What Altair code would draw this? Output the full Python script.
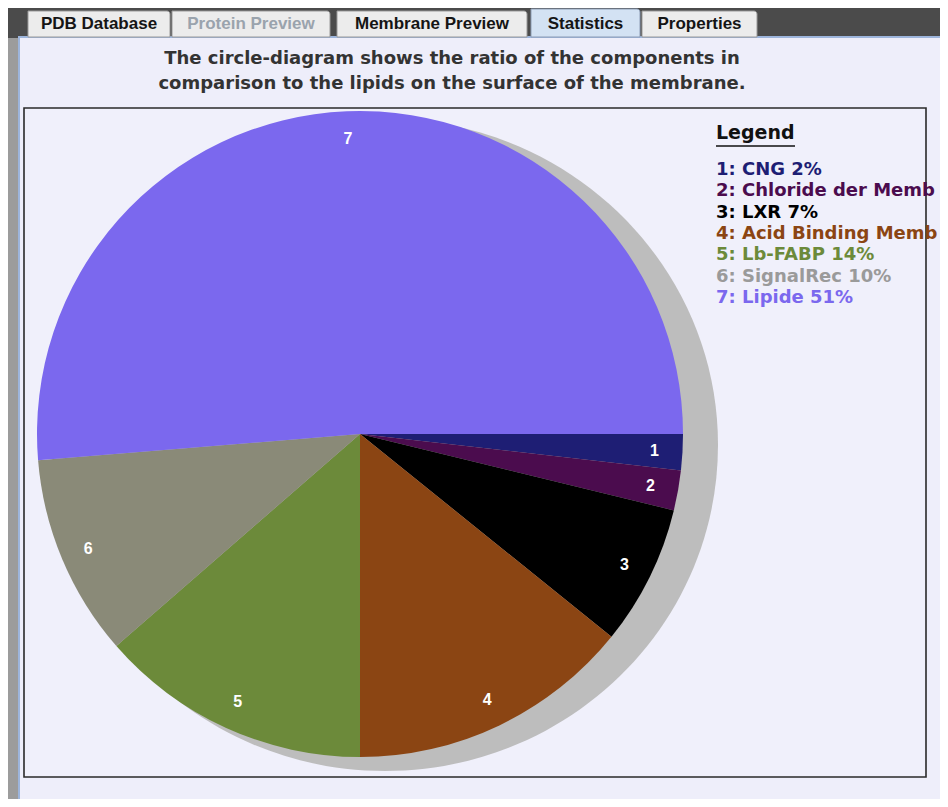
import math
import altair as alt
import pandas as pd

# ---- data ----
labels = ["1", "2", "3", "4", "5", "6", "7"]
names = ["CNG", "Chloride der Membran", "LXR", "Acid Binding Membran",
         "Lb-FABP", "SignalRec", "Lipide"]
shares = [1.8, 2.0, 7.0, 14.2, 13.6, 10.1, 51.3]
legend_text = ["1: CNG 2%", "2: Chloride der Memb", "3: LXR 7%",
               "4: Acid Binding Memb", "5: Lb-FABP 14%", "6: SignalRec 10%",
               "7: Lipide 51%"]
slice_colors = ["#1e1e74", "#4b0c4e", "#000000", "#8b4513",
                "#6c8a3a", "#8a8a78", "#7b68ee"]
legend_colors = ["#1e1e74", "#4b0c4e", "#000000", "#8b4513",
                 "#6c8a3a", "#9a9a9a", "#7b68ee"]
title_lines = ["The circle-diagram shows the ratio of the components in",
               "comparison to the lipids on the surface of the membrane."]
tab_names = ["PDB Database", "Protein Preview", "Membrane Preview",
             "Statistics", "Properties"]

df = pd.DataFrame({
    "idx": list(range(len(labels))),
    "label": labels,
    "name": names,
    "share": shares,
    "legend": legend_text,
    "scolor": slice_colors,
    "lcolor": legend_colors,
})
one = pd.DataFrame({"k": [0]})

FONT = "Liberation Sans"
WIDE = "DejaVu Sans"
W, H = 932, 791
CX, CY, R = 352, 426, 323
theta_scale = alt.Scale(domain=[0, sum(shares)],
                        range=[math.pi / 2, math.pi / 2 + 2 * math.pi])

layers = []

# outer window decorations
layers.append(alt.Chart(one).mark_rect(color="#9c9c9c").encode(
    x=alt.value(0), x2=alt.value(10), y=alt.value(30), y2=alt.value(H)))
# panel
layers.append(alt.Chart(one).mark_rect(fill="#eeeefa", stroke="#9db5dc", strokeWidth=2).encode(
    x=alt.value(11), x2=alt.value(936), y=alt.value(29), y2=alt.value(797)))

# tabs
tab_pos = [(20, 162), (164, 322), (329, 519), (523, 632), (634, 749)]
for i, (name, (a, b)) in enumerate(zip(tab_names, tab_pos)):
    sel = name == "Statistics"
    layers.append(alt.Chart(one).mark_rect(
        fill="#d3e2f3" if sel else "#ececec",
        stroke="#8d9db5" if sel else "#9a9a9a", strokeWidth=1,
        cornerRadiusTopRight=3).encode(
        x=alt.value(a), x2=alt.value(b), y=alt.value(1 if sel else 3), y2=alt.value(29)))
    layers.append(alt.Chart(one).mark_text(
        font=FONT, fontSize=17, fontWeight="bold",
        color="#9aa3ad" if name == "Protein Preview" else "#151515",
        align="center", baseline="middle").encode(
        x=alt.value((a + b) / 2), y=alt.value(16), text=alt.value(name)))

# title
for j, line in enumerate(title_lines):
    layers.append(alt.Chart(one).mark_text(
        font=WIDE, fontSize=18, fontWeight="bold", color="#333333",
        align="center", baseline="middle").encode(
        x=alt.value(444), y=alt.value(51 + 25 * j), text=alt.value(line)))

# frame
layers.append(alt.Chart(one).mark_rect(fill="#f0f0fb", stroke="#2a2a2a", strokeWidth=1.6).encode(
    x=alt.value(16), x2=alt.value(918), y=alt.value(100), y2=alt.value(769)))

# shadow (slightly elliptical, offset to the lower right)
ellipse = "M -1 0 A 1 0.979 0 1 0 1 0 A 1 0.979 0 1 0 -1 0 Z"
layers.append(alt.Chart(one).mark_point(
    shape=ellipse, size=666 ** 2, filled=True, opacity=1, strokeWidth=0,
    color="#bdbdbd").encode(
    x=alt.value(CX + 25), y=alt.value(CY + 11)))

# pie
layers.append(alt.Chart(df).mark_arc(outerRadius=R).encode(
    theta=alt.Theta("share:Q", stack=True, scale=theta_scale),
    order=alt.Order("idx:Q", sort="ascending"),
    color=alt.Color("scolor:N", scale=None, legend=None),
    x=alt.value(CX), y=alt.value(CY)))

# slice labels
layers.append(alt.Chart(df).mark_text(
    radius=295, font=FONT, fontSize=16, fontWeight="bold", color="white",
    align="center", baseline="middle").encode(
    theta=alt.Theta("share:Q", stack=True, scale=theta_scale),
    order=alt.Order("idx:Q", sort="ascending"),
    text="label:N",
    x=alt.value(CX), y=alt.value(CY)))

# legend
layers.append(alt.Chart(one).mark_text(
    font=WIDE, fontSize=19, fontWeight="bold", color="#111111",
    align="left", baseline="middle").encode(
    x=alt.value(708), y=alt.value(125), text=alt.value("Legend")))
layers.append(alt.Chart(one).mark_rule(color="#111111", strokeWidth=1.5).encode(
    x=alt.value(708), x2=alt.value(787), y=alt.value(138)))
layers.append(alt.Chart(df).mark_text(
    font=WIDE, fontSize=18, fontWeight="bold",
    align="left", baseline="middle").encode(
    y=alt.Y("legend:N", sort=legend_text,
            scale=alt.Scale(type="point", domain=legend_text, range=[162, 290], padding=0),
            axis=None),
    x=alt.value(708),
    text="legend:N",
    color=alt.Color("lcolor:N", scale=None, legend=None)))

chart = alt.layer(*layers).properties(
    width=W, height=H, autosize="none", padding=0, background="#4b4b4b"
).configure_view(stroke=None)

chart.save("out.html", embed_options={"renderer": "svg", "actions": False})
